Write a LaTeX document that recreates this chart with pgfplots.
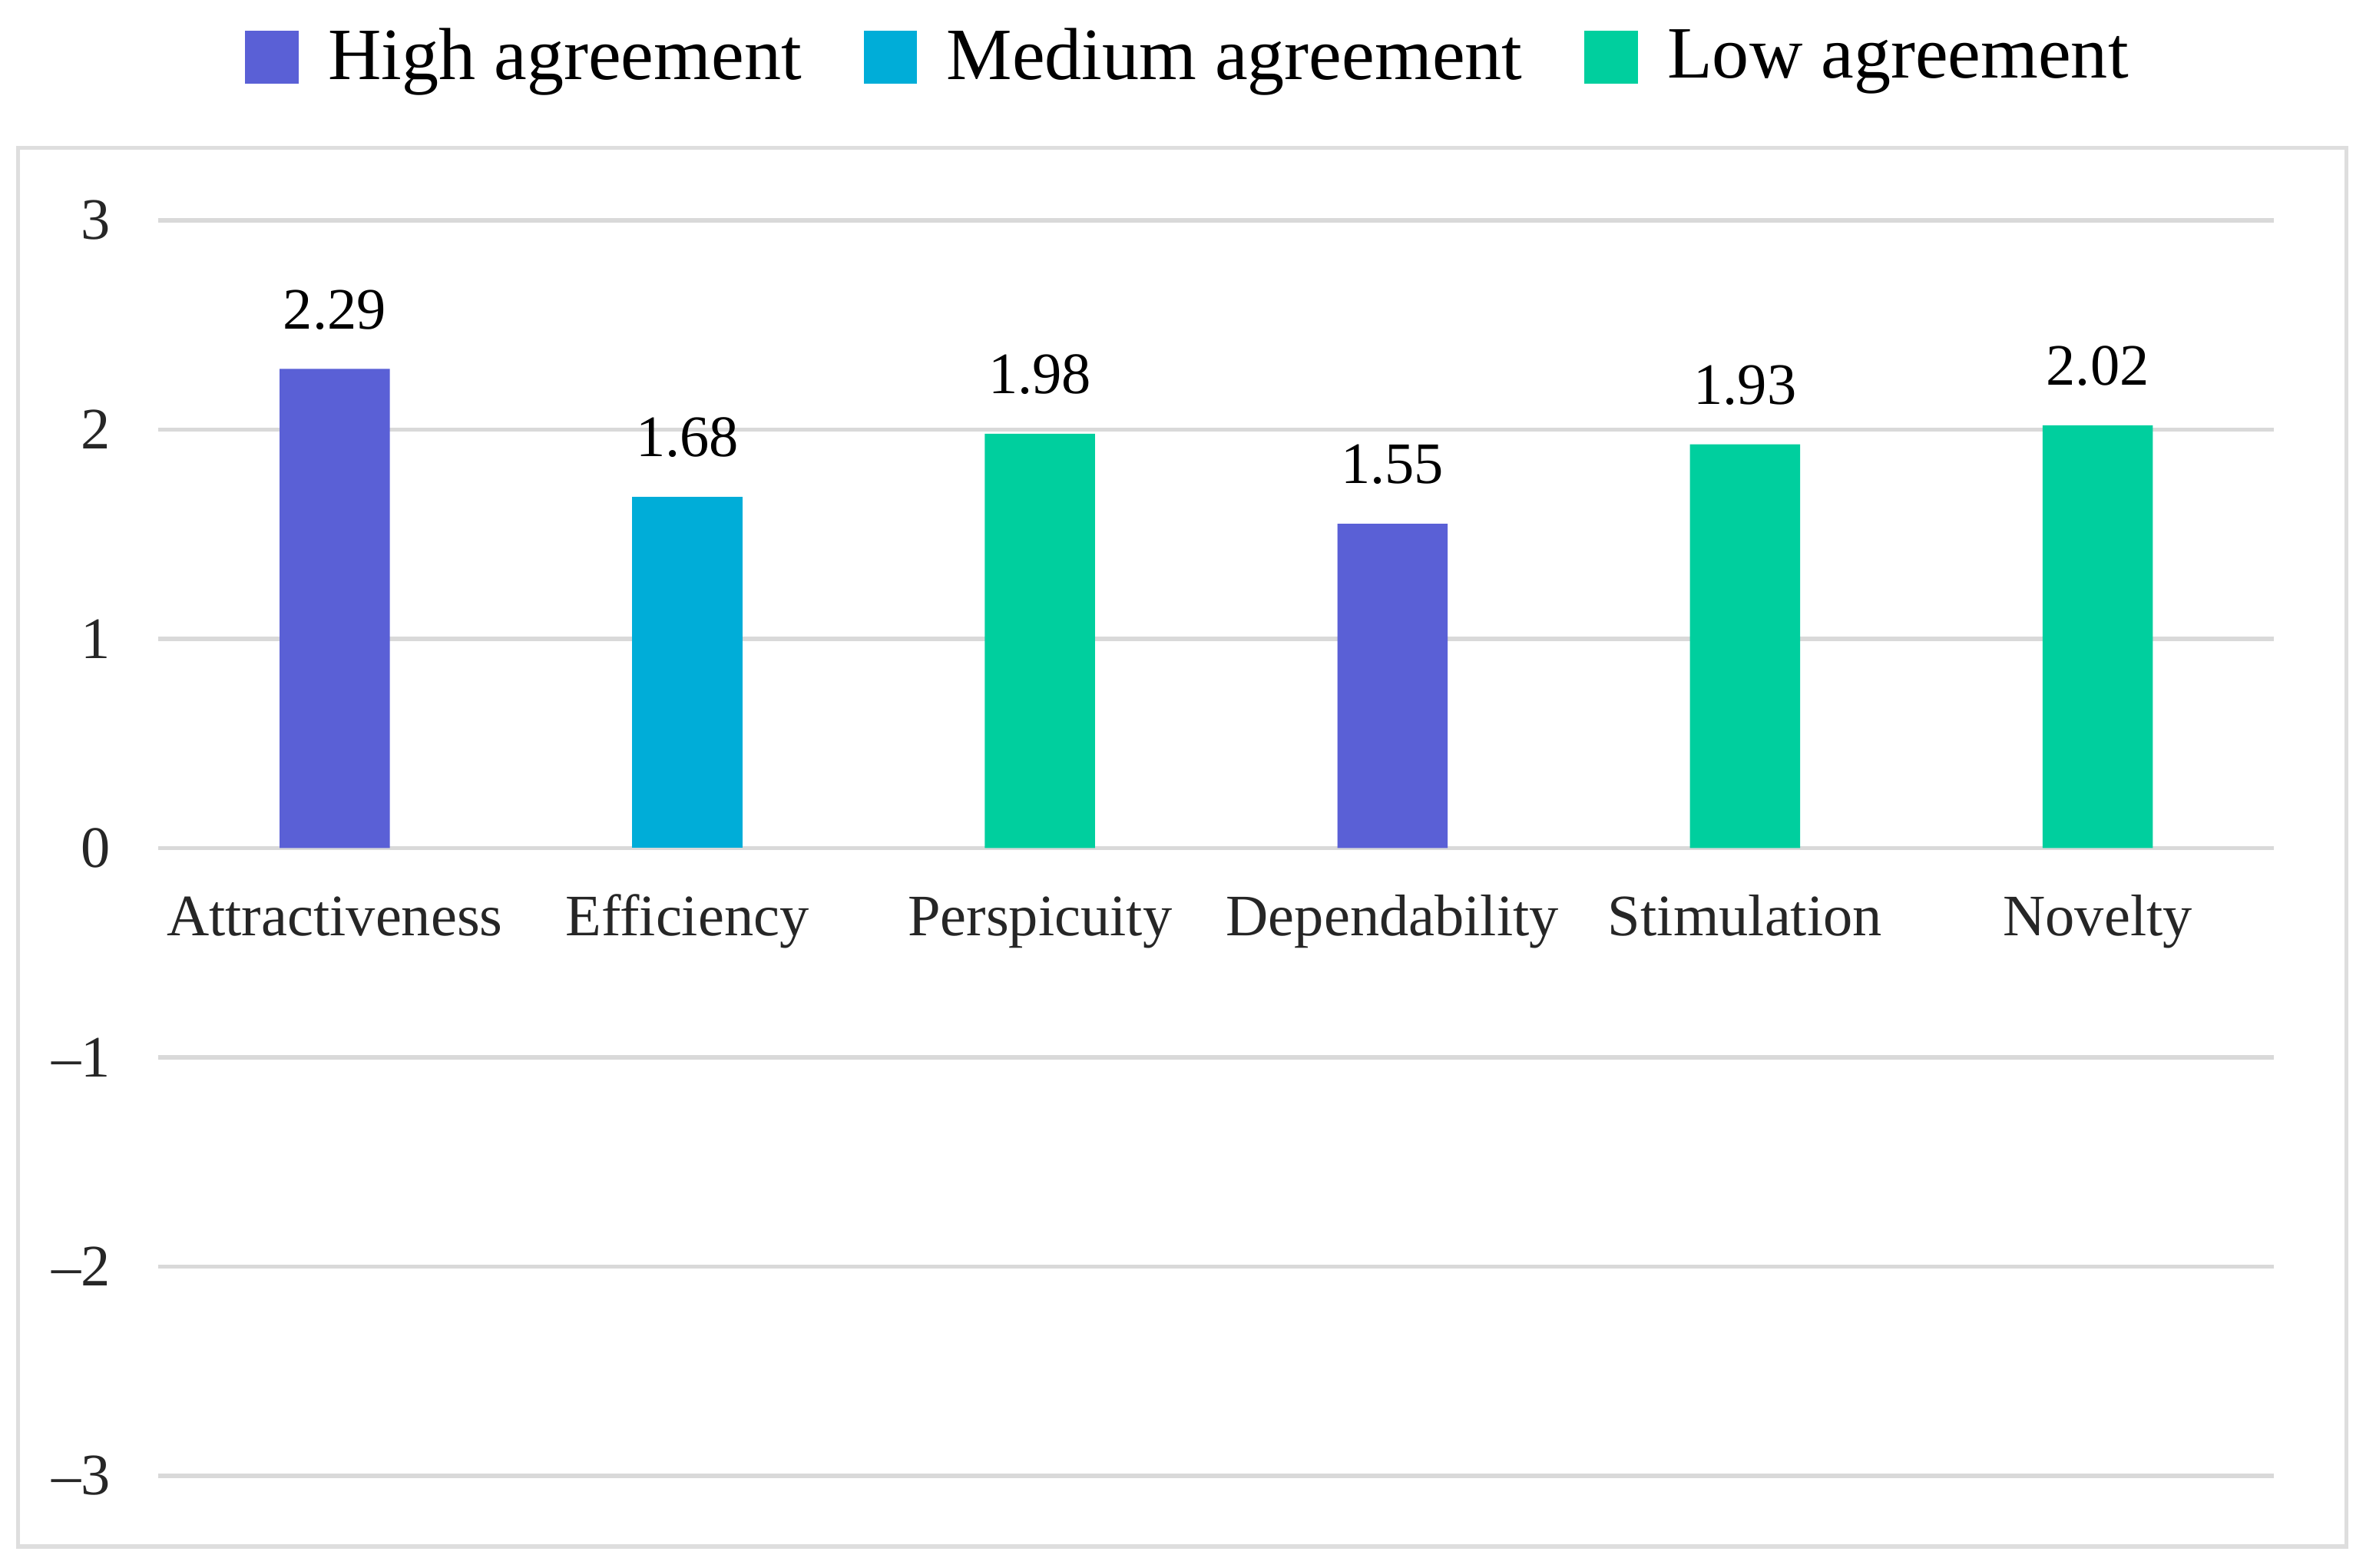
\documentclass[border=0pt]{standalone}
\usepackage{fontspec}
\setmainfont{Liberation Serif}
\usepackage{pgfplots}
\pgfplotsset{compat=1.18}
\definecolor{highc}{RGB}{90,96,214}
\definecolor{medc}{RGB}{0,173,216}
\definecolor{lowc}{RGB}{0,207,158}
\definecolor{gridc}{RGB}{217,217,217}
\definecolor{framec}{RGB}{222,222,222}
\pgfplotsset{
  sqbar/.style={ybar, bar width=0.745cm, bar shift=0pt, draw=none, fill=#1,
    legend image code/.code={\fill[#1] (0cm,-0.18cm) rectangle (0.36cm,0.18cm);},
    nodes near coords={\pgfmathprintnumber[fixed,fixed zerofill,precision=2,assume math mode=true]{\pgfplotspointmeta}},
    every node near coord/.append style={anchor=south, yshift=4pt, font=\fontsize{11.3}{13}\selectfont, text=black}},
}
\begin{document}
\begin{tikzpicture}
\useasboundingbox (0,0) rectangle (16cm,-10.604cm);
\draw[framec, line width=0.8pt] (0.1224cm,-1.0cm) rectangle (15.867cm,-10.459cm);
\begin{axis}[
  at={(1.0714cm,-9.980cm)}, anchor=south west,
  scale only axis, width=14.306cm, height=8.490cm,
  xmin=-0.5, xmax=5.5, ymin=-3, ymax=3,
  ytick={-3,-2,-1,0,1,2,3},
  yticklabels={\mbox{\textendash 3},\mbox{\textendash 2},\mbox{\textendash 1},\mbox{0},\mbox{1},\mbox{2},\mbox{3}},
  xtick={0,1,2,3,4,5},
  xticklabels={Attractiveness,Efficiency,Perspicuity,Dependability,Stimulation,Novelty},
  /pgf/number format/assume math mode=true,
  axis line style={draw=none}, major tick style={draw=none},
  ymajorgrids, grid style={gridc, line width=0.8pt},
  xticklabel style={font=\fontsize{11.3}{13}\selectfont, anchor=base, yshift=3.653cm, text=black!85},
  yticklabel style={font=\fontsize{11.3}{13}\selectfont, anchor=east, xshift=-0.2cm, text=black!85},
  legend columns=3,
  legend style={at={(0.4886,1.1298)}, anchor=center, draw=none, fill=none,
    font=\fontsize{14.2}{16}\selectfont,
    /tikz/every odd column/.append style={column sep=0.13cm},
    /tikz/every even column/.append style={column sep=0.35cm}},
]
\addplot[sqbar=highc] coordinates {(0,2.29) (3,1.55)};
\addlegendentry{High agreement}
\addplot[sqbar=medc] coordinates {(1,1.68)};
\addlegendentry{Medium agreement}
\addplot[sqbar=lowc] coordinates {(2,1.98) (4,1.93) (5,2.02)};
\addlegendentry{Low agreement}
\end{axis}
\end{tikzpicture}
\end{document}
